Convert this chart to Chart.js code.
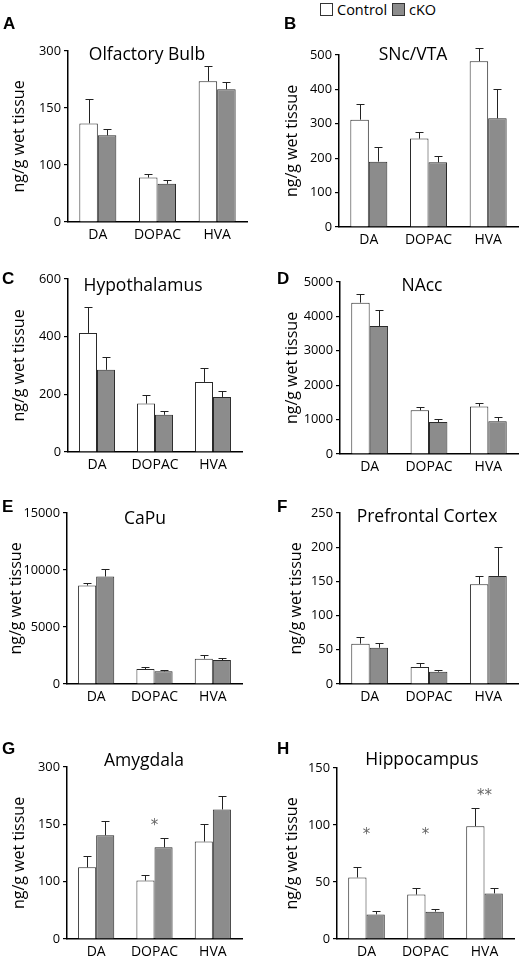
<!DOCTYPE html>
<html>
<head>
<meta charset="utf-8">
<script src="https://cdn.jsdelivr.net/npm/chart.js@4.4.1/dist/chart.umd.min.js"></script>
<style>
  body { margin: 0; background: #fff; width: 520px; height: 959px; position: relative; overflow: hidden; font-family: "Open Sans", sans-serif; color: #000; }
  canvas { position: absolute; }
  .letter { position: absolute; font: bold 17px "Liberation Sans", Arial, sans-serif; transform: translateY(-50%); }
  .ptitle { position: absolute; font-size: 17.5px; white-space: nowrap; transform: translate(-50%, -50%); }
  .legend { position: absolute; left: 320px; top: 2px; font-size: 14.5px; line-height: 16px; white-space: nowrap; }
  .legend span.box { display: inline-block; width: 11px; height: 11px; border: 1px solid #333; vertical-align: -1px; margin-right: 4px; }
</style>
</head>
<body>
<div class="legend"><span class="box" style="background:#fff"></span>Control <span class="box" style="background:#8c8c8c;margin-left:1px"></span>cKO</div>
<script>
var categories = ['DA', 'DOPAC', 'HVA'];

// A - Olfactory Bulb (axis printed as 0/100/150/300 at equal steps)
var olfControl = [173, 78, 247];
var olfControlErr = [42, 7, 27];
var olfCko = [152, 67, 233];
var olfCkoErr = [11, 7, 12];
var olfTicks = ['0', '100', '150', '300'];

// B - SNc/VTA
var snControl = [312, 257, 482];
var snControlErr = [45, 20, 37];
var snCko = [190, 188, 316];
var snCkoErr = [42, 19, 84];

// C - Hypothalamus
var hypControl = [413, 168, 243];
var hypControlErr = [91, 29, 47];
var hypCko = [285, 129, 191];
var hypCkoErr = [44, 14, 21];

// D - NAcc
var naccControl = [4400, 1270, 1380];
var naccControlErr = [250, 90, 100];
var naccCko = [3720, 930, 950];
var naccCkoErr = [480, 100, 120];

// E - CaPu
var capuControl = [8640, 1310, 2220];
var capuControlErr = [260, 150, 290];
var capuCko = [9430, 1110, 2100];
var capuCkoErr = [670, 140, 150];

// F - Prefrontal Cortex
var pfcControl = [59, 25, 146];
var pfcControlErr = [9, 5, 12];
var pfcCko = [53, 18, 158];
var pfcCkoErr = [7, 2, 43];

// G - Amygdala (axis printed as 0/100/150/300 at equal steps)
var amyControl = [125, 102, 170];
var amyControlErr = [19, 10, 31];
var amyCko = [181, 160, 226];
var amyCkoErr = [24, 17, 23];
var amyTicks = ['0', '100', '150', '300'];
var amyStars = [{ index: 1, value: 202, text: '*' }];

// H - Hippocampus
var hipControl = [54, 39, 99];
var hipControlErr = [9, 6, 16];
var hipCko = [21.6, 24, 40];
var hipCkoErr = [2.9, 2.6, 4.5];
var hipStars = [
  { index: 0, value: 94, text: '*' },
  { index: 1, value: 94, text: '*' },
  { index: 2, value: 128, text: '**' }
];

var panels = [
  { letter: 'A', title: 'Olfactory Bulb', control: olfControl, controlErr: olfControlErr, cko: olfCko, ckoErr: olfCkoErr, max: 300, step: 100, tickLabels: olfTicks, stars: [] },
  { letter: 'B', title: 'SNc/VTA', control: snControl, controlErr: snControlErr, cko: snCko, ckoErr: snCkoErr, max: 500, step: 100, stars: [] },
  { letter: 'C', title: 'Hypothalamus', control: hypControl, controlErr: hypControlErr, cko: hypCko, ckoErr: hypCkoErr, max: 600, step: 200, stars: [] },
  { letter: 'D', title: 'NAcc', control: naccControl, controlErr: naccControlErr, cko: naccCko, ckoErr: naccCkoErr, max: 5000, step: 1000, stars: [] },
  { letter: 'E', title: 'CaPu', control: capuControl, controlErr: capuControlErr, cko: capuCko, ckoErr: capuCkoErr, max: 15000, step: 5000, stars: [] },
  { letter: 'F', title: 'Prefrontal Cortex', control: pfcControl, controlErr: pfcControlErr, cko: pfcCko, ckoErr: pfcCkoErr, max: 250, step: 50, stars: [] },
  { letter: 'G', title: 'Amygdala', control: amyControl, controlErr: amyControlErr, cko: amyCko, ckoErr: amyCkoErr, max: 300, step: 100, tickLabels: amyTicks, stars: amyStars },
  { letter: 'H', title: 'Hippocampus', control: hipControl, controlErr: hipControlErr, cko: hipCko, ckoErr: hipCkoErr, max: 150, step: 50, stars: hipStars }
];

// plot area of each panel on the page: left, top, right, bottom
var layout = [
  { col: 0, area: [68, 51, 247, 222], titleX: 147, titleY: 53, letterX: 3, letterY: 24, yTitlePad: 11 },
  { col: 1, area: [339, 55, 518, 227], titleX: 413, titleY: 53, letterX: 284, letterY: 24, yTitlePad: 24 },
  { col: 0, area: [68, 279, 242, 452], titleX: 143, titleY: 284, letterX: 2, letterY: 279, yTitlePad: 11 },
  { col: 1, area: [340, 282, 518, 454], titleX: 422, titleY: 284, letterX: 277, letterY: 279, yTitlePad: 24 },
  { col: 0, area: [67, 513, 242, 684], titleX: 145, titleY: 517, letterX: 2, letterY: 507, yTitlePad: 8 },
  { col: 1, area: [340, 513, 518, 684], titleX: 427, titleY: 515, letterX: 277, letterY: 507, yTitlePad: 28 },
  { col: 0, area: [67, 767, 242, 939], titleX: 144, titleY: 759, letterX: 2, letterY: 749, yTitlePad: 11 },
  { col: 1, area: [337, 768, 514, 939], titleX: 422, titleY: 758, letterX: 277, letterY: 749, yTitlePad: 24 }
];

var CONTROL_FILL = '#ffffff';
var CKO_FILL = '#8c8c8c';
var EDGE = '#2a2a2a';

// error bars (upper only, with cap) and significance stars
var extrasPlugin = {
  id: 'extras',
  afterDatasetsDraw: function (chart) {
    var ctx = chart.ctx;
    var yScale = chart.scales.y;
    var xScale = chart.scales.x;
    ctx.save();
    ctx.strokeStyle = '#222';
    ctx.lineWidth = 1;
    chart.data.datasets.forEach(function (ds, d) {
      var meta = chart.getDatasetMeta(d);
      meta.data.forEach(function (bar, i) {
        var top = yScale.getPixelForValue(ds.data[i] + ds.errors[i]);
        ctx.beginPath();
        ctx.moveTo(Math.round(bar.x) + 0.5, bar.y);
        ctx.lineTo(Math.round(bar.x) + 0.5, Math.round(top) + 0.5);
        ctx.moveTo(Math.round(bar.x) - 3.5, Math.round(top) + 0.5);
        ctx.lineTo(Math.round(bar.x) + 4.5, Math.round(top) + 0.5);
        ctx.stroke();
      });
    });
    var stars = chart.options.plugins.extras.stars || [];
    ctx.fillStyle = '#666';
    ctx.font = '15px "DejaVu Sans"';
    ctx.textAlign = 'center';
    ctx.textBaseline = 'middle';
    stars.forEach(function (s) {
      ctx.fillText(s.text, xScale.getPixelForValue(s.index), yScale.getPixelForValue(s.value) + 3);
    });
    ctx.restore();
  }
};

function addText(cls, text, x, y) {
  var el = document.createElement('div');
  el.className = cls;
  el.textContent = text;
  el.style.left = x + 'px';
  el.style.top = y + 'px';
  document.body.appendChild(el);
}

panels.forEach(function (p, k) {
  var L = layout[k];
  var cx = L.col * 260;
  var cy = L.area[1] - 20;
  var w = 260;
  var h = (L.area[3] - L.area[1]) + 50;
  var yWidth = L.area[0] - cx;

  var canvas = document.createElement('canvas');
  canvas.width = w;
  canvas.height = h;
  canvas.style.left = cx + 'px';
  canvas.style.top = cy + 'px';
  document.body.appendChild(canvas);

  addText('letter', p.letter, L.letterX, L.letterY);
  addText('ptitle', p.title, L.titleX, L.titleY);

  new Chart(canvas.getContext('2d'), {
    type: 'bar',
    data: {
      labels: categories,
      datasets: [
        { label: 'Control', data: p.control, errors: p.controlErr, backgroundColor: CONTROL_FILL, borderColor: EDGE, borderWidth: 1 },
        { label: 'cKO', data: p.cko, errors: p.ckoErr, backgroundColor: CKO_FILL, borderColor: EDGE, borderWidth: 1 }
      ]
    },
    options: {
      responsive: false,
      animation: false,
      devicePixelRatio: 1,
      layout: { padding: { top: 20, right: cx + w - L.area[2], bottom: 0, left: 0 } },
      datasets: { bar: { categoryPercentage: 0.62, barPercentage: 1.0 } },
      plugins: {
        legend: { display: false },
        tooltip: { enabled: false },
        extras: { stars: p.stars }
      },
      scales: {
        x: {
          grid: { display: false, drawTicks: false },
          border: { display: true, color: '#000', width: 1.5 },
          ticks: { color: '#000', font: { family: 'Open Sans', size: 14 }, padding: 5 },
          afterFit: function (scale) { scale.height = 30; }
        },
        y: {
          min: 0,
          max: p.max,
          grid: { display: true, drawOnChartArea: false, drawTicks: true, tickLength: 4, color: '#000', lineWidth: 1.2 },
          border: { display: true, color: '#000', width: 1.5 },
          ticks: {
            stepSize: p.step,
            color: '#000',
            padding: 3,
            font: { family: 'Open Sans', size: 12.8 },
            callback: function (value, index) {
              return p.tickLabels ? p.tickLabels[index] : value;
            }
          },
          title: {
            display: true,
            text: 'ng/g wet tissue',
            color: '#000',
            font: { family: 'Open Sans', size: 16 },
            padding: { top: L.yTitlePad - 1, bottom: 0 }
          },
          afterFit: function (scale) { scale.width = yWidth; }
        }
      }
    },
    plugins: [extrasPlugin]
  });
});
</script>
</body>
</html>
